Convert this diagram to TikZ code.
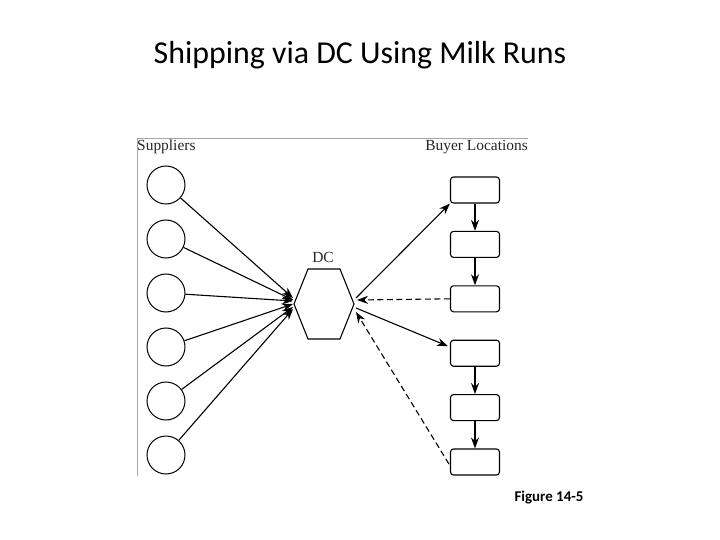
\documentclass[tikz,border=0pt]{standalone}
\usepackage{fontspec}
\setmainfont{Liberation Serif}
\newfontfamily\slidefont{Carlito}
\usetikzlibrary{arrows.meta, calc, positioning}

\begin{document}
\begin{tikzpicture}[x=1bp, y=-1bp,
  supplier/.style={draw, circle, minimum size=38bp, inner sep=0pt, line width=1bp},
  buyer/.style={draw, rounded corners=3bp, minimum width=49bp, minimum height=26bp, inner sep=0pt, line width=1.1bp},
  flow/.style={-{Stealth[length=11bp, width=8bp]}, line width=1.1bp},
  milkrun/.style={flow, dashed, dash pattern=on 6bp off 3.5bp},
  frame/.style={draw=gray!70, line width=0.7bp},
  lab/.style={font=\fontsize{15.5}{18}\selectfont, text=black!85, inner sep=0pt}]
\useasboundingbox (0,0) rectangle (720,540);

% Title
\node[font=\slidefont\fontsize{32}{38}\selectfont] (title) at (360,55) {Shipping via DC Using Milk Runs};

% Frame and headings
\draw[frame] (528,138) -- (137,138) -- (137,476);
\node[lab, anchor=west] (suplab) at (137,147) {Suppliers};
\node[lab, anchor=east] (buylab) at (528,147) {Buyer Locations};

% Suppliers
\foreach \i in {1,...,6} {
    \node[supplier] (sup\i) at (166,{185+54*(\i-1)}) {};
}

% DC hexagon
\coordinate (dcl) at (294,304);
\coordinate (dcr) at (354,304);
\draw[line width=1.1bp] (dcl) -- (308,269) -- (340,269) -- (dcr) -- (340,339) -- (308,339) -- cycle;
\node[lab] (dclab) at (323,257) {DC};

% Buyer locations
\foreach \i in {1,...,6} {
    \node[buyer] (buy\i) at (475,{190+54.4*(\i-1)}) {};
}

% Suppliers to DC
\foreach \i/\dy in {1/-6,2/-4,3/-3,4/0,5/3,6/5} {
    \draw[flow] (sup\i) -- ($(dcl)+(-1,\dy)$);
}

% DC to buyers
\draw[flow] ($(dcr)+(2,-6)$) -- (buy1.south west);
\draw[flow] ($(dcr)+(2,4)$) -- ($(buy4.west)+(-2,-7)$);
\draw[milkrun] (buy3.west) -- ($(dcr)+(3,-4)$);
\draw[milkrun] ($(buy6.west)+(-1,2)$) -- ($(dcr)+(2,8)$);

% Milk runs between buyers
\foreach \a/\b in {1/2,2/3,4/5,5/6} {
    \draw[flow] (buy\a) -- (buy\b);
}

% Caption
\node[font=\slidefont\bfseries\fontsize{15}{18}\selectfont] (caption) at (549,498) {Figure 14-5};
\end{tikzpicture}
\end{document}
